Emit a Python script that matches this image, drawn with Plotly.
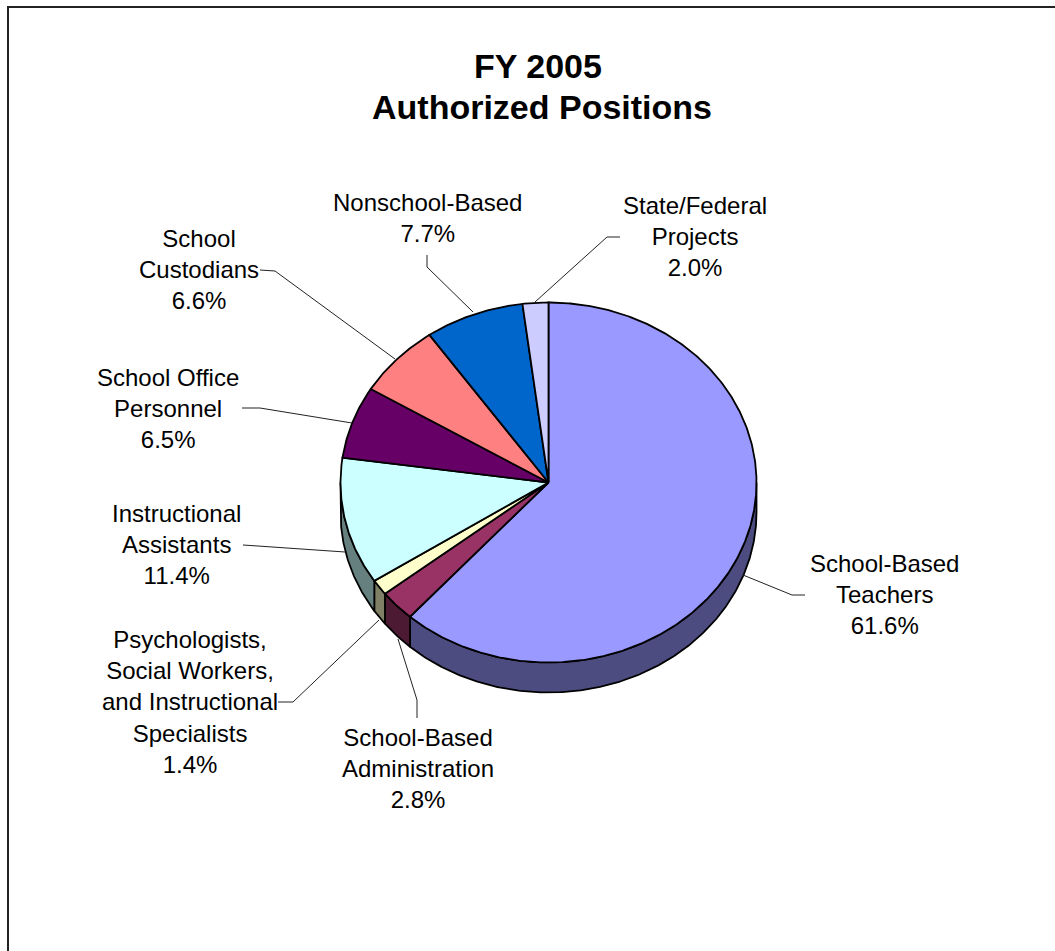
import numpy as np
import plotly.graph_objects as go

# ---------------- data ----------------
categories = [
    "School-Based Teachers",
    "School-Based Administration",
    "Psychologists, Social Workers, and Instructional Specialists",
    "Instructional Assistants",
    "School Office Personnel",
    "School Custodians",
    "Nonschool-Based",
    "State/Federal Projects",
]
shares = [61.6, 2.8, 1.4, 11.4, 6.5, 6.6, 7.7, 2.0]
label_lines = [
    "School-Based<br>Teachers",
    "School-Based<br>Administration",
    "Psychologists,<br>Social Workers,<br>and Instructional<br>Specialists",
    "Instructional<br>Assistants",
    "School Office<br>Personnel",
    "School<br>Custodians",
    "Nonschool-Based",
    "State/Federal<br>Projects",
]
title_lines = ["FY 2005", "Authorized Positions"]

# ---------------- styles / layout ----------------
top_colors = ["#9999FF", "#993366", "#FFFFCC", "#CCFFFF",
              "#660066", "#FF8080", "#0066CC", "#CCCCFF"]
W, H = 1055, 951
CX, CY, RX, RY, DEPTH = 548.5, 482.5, 208.0, 180.0, 30.0
FONT = "Liberation Sans, Arial, sans-serif"

label_pos = [(884, 594), (418, 768), (190, 702), (176, 544),
             (168, 408), (199, 269), (427, 218), (695, 236)]
leaders = [
    [(805, 595), (792, 595), (743, 575)],
    [(417, 718), (417, 700), (398, 639)],
    [(278, 702), (293, 702), (379, 620)],
    [(243, 545), (345, 552)],
    [(242, 408), (260, 408), (352, 423)],
    [(260, 270), (275, 271), (395, 359)],
    [(427, 255), (427, 267), (473, 312)],
    [(620, 237), (607, 237), (535, 302)],
]


def darker(hexcol, f=0.5):
    h = hexcol.lstrip("#")
    r, g, b = (int(h[i:i + 2], 16) for i in (0, 2, 4))
    return "rgb(%d,%d,%d)" % (round(r * f), round(g * f), round(b * f))


def ell(theta_deg):
    t = np.radians(theta_deg)
    return CX + RX * np.sin(t), CY - RY * np.cos(t)


fig = go.Figure()

vals = np.array(shares, dtype=float)
ends = np.cumsum(vals) / vals.sum() * 360.0
starts = np.concatenate([[0.0], ends[:-1]])

# side faces (front half only: 90..270 degrees clockwise from top)
for a, b, col in zip(starts, ends, top_colors):
    lo, hi = max(a, 90.0), min(b, 270.0)
    if hi <= lo:
        continue
    th = np.linspace(lo, hi, max(int((hi - lo) * 2), 2) + 1)
    xs, ys = ell(th)
    px = np.concatenate([xs, xs[::-1], xs[:1]])
    py = np.concatenate([ys, ys[::-1] + DEPTH, ys[:1]])
    fig.add_trace(go.Scatter(x=px, y=py, mode="lines", fill="toself",
                             fillcolor=darker(col),
                             line=dict(color="black", width=1.8),
                             hoverinfo="skip", showlegend=False))

# top faces
for a, b, col, name in zip(starts, ends, top_colors, categories):
    th = np.linspace(a, b, max(int((b - a) * 2), 2) + 1)
    xs, ys = ell(th)
    px = np.concatenate([[CX], xs, [CX]])
    py = np.concatenate([[CY], ys, [CY]])
    fig.add_trace(go.Scatter(x=px, y=py, mode="lines", fill="toself",
                             fillcolor=col, name=name,
                             line=dict(color="black", width=1.8),
                             hoverinfo="skip", showlegend=False))

# leader lines
for pts in leaders:
    fig.add_trace(go.Scatter(x=[p[0] for p in pts], y=[p[1] for p in pts],
                             mode="lines", line=dict(color="#222222", width=1),
                             hoverinfo="skip", showlegend=False))

# labels
for txt, v, (lx, ly) in zip(label_lines, shares, label_pos):
    fig.add_annotation(x=lx, y=ly, xref="x", yref="y", showarrow=False,
                       text=f"{txt}<br>{v:.1f}%", align="center",
                       xanchor="center", yanchor="middle",
                       font=dict(family=FONT, size=24, color="black"))

# title
fig.add_annotation(x=538, y=66, xref="x", yref="y", showarrow=False,
                   text=f"<b>{title_lines[0]}</b>", xanchor="center", yanchor="middle",
                   font=dict(family=FONT, size=34, color="black"))
fig.add_annotation(x=542, y=107, xref="x", yref="y", showarrow=False,
                   text=f"<b>{title_lines[1]}</b>", xanchor="center", yanchor="middle",
                   font=dict(family=FONT, size=34, color="black"))

# chart frame
fig.add_shape(type="rect", x0=8, y0=7, x1=W + 10, y1=H + 10, xref="x", yref="y",
              line=dict(color="#222222", width=2), fillcolor="rgba(0,0,0,0)", layer="below")

fig.update_xaxes(range=[0, W], visible=False, fixedrange=True)
fig.update_yaxes(range=[H, 0], visible=False, fixedrange=True)
fig.update_layout(width=W, height=H, margin=dict(l=0, r=0, t=0, b=0),
                  paper_bgcolor="white", plot_bgcolor="white", showlegend=False)

fig.write_html("out.html")
